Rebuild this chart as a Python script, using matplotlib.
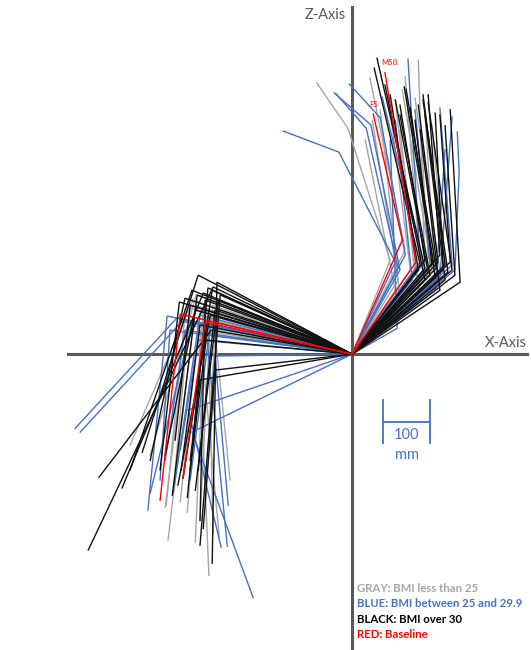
import matplotlib
matplotlib.use('Agg')
import matplotlib.pyplot as plt

# colours used in the original figure
GRAY = '#A6A6A6'
BLUE = '#4472C4'
BLACK = '#111111'
RED = '#FF0000'
AXIS = '#595959'

# every chain starts at the hip (0, 0); values in mm, (x, z)
# leg = knee, ankle   trunk = lower point(s) ... top point
gray_leg = [
    [(-339, 115), (-473, -194)], [(-345, 98), (-398, -326)], [(-334, 104), (-392, -396)],
    [(-324, 89), (-366, -315)], [(-317, 94), (-351, -337)], [(-313, 77), (-334, -400)],
    [(-328, 68), (-305, -471)], [(-307, 83), (-296, -381)], [(-324, 51), (-283, -390)],
    [(-356, 83), (-396, -322)], [(-302, 72), (-324, -354)], [(-349, 62), (-377, -247)],
    [(-313, 115), (-345, -268)], [(-292, 40), (-313, -311)],
    [(-332, 126), (-430, -215)], [(-298, 104), (-260, -268)],
]
gray_trunk = [
    [(81, 200), (-9, 481), (-75, 577)], [(155, 183), (141, 626)], [(113, 222), (38, 588)],
    [(145, 196), (113, 590)], [(170, 179), (107, 562)], [(187, 175), (134, 545)],
    [(102, 115), (60, 520)], [(134, 168), (92, 541)], [(162, 204), (145, 498)],
    [(124, 179), (77, 552)], [(198, 190), (170, 488)], [(98, 158), (43, 498)],
    [(177, 158), (155, 520)], [(141, 147), (102, 477)],
    [(92, 136), (28, 456)], [(145, 115), (102, 435)],
]

blue_leg = [
    [(-373, 77), (-590, -158)], [(-362, 70), (-579, -166)], [(-394, 81), (-435, -332)],
    [(-292, -4), (-264, -322)], [(-341, -166), (-211, -518)], [(-349, -119), (-279, -411)],
    [(-334, 94), (-430, -296)], [(-324, 83), (-381, -296)], [(-313, 72), (-266, -409)],
    [(-302, 62), (-345, -268)], [(-356, 51), (-398, -226)], [(-328, 30), (-366, -204)],
    [(-388, 51), (-409, -268)],
]
blue_trunk = [
    [(92, 196), (-28, 430), (-147, 475)], [(102, 179), (40, 488), (-38, 556)],
    [(98, 183), (30, 481), (-34, 554)], [(113, 211), (60, 503), (-6, 575)],
    [(145, 196), (119, 628)], [(213, 190), (187, 524)],
    [(219, 179), (228, 388), (224, 473)], [(187, 164), (213, 505)],
    [(155, 179), (64, 547)], [(96, 55), (81, 456)],
    [(166, 190), (134, 520)], [(128, 158), (92, 498)],
    [(177, 136), (198, 435)],
]

black_leg = [
    [(-328, 168), (-447, -209)], [(-288, 153), (-298, -445)], [(-296, 143), (-562, -417)],
    [(-317, 130), (-490, -285)], [(-307, 141), (-351, -305)], [(-300, 51), (-539, -262)],
    [(-368, 111), (-409, -247)], [(-330, 126), (-383, -300)], [(-298, 136), (-360, -264)],
    [(-345, 104), (-377, -183)], [(-313, 115), (-324, -354)], [(-285, 115), (-334, -290)],
    [(-324, -55), (-345, -226)], [(-292, -34), (-317, -371)], [(-334, 94), (-398, -215)],
    [(-302, 83), (-371, -279)], [(-356, 119), (-430, -226)], [(-311, 30), (-345, -247)],
    [(-324, 62), (-364, -247)], [(-292, 94), (-328, -247)],
    [(-281, 126), (-324, -407)], [(-341, 136), (-473, -247)],
]
black_trunk = [
    [(155, 183), (53, 630)], [(145, 190), (47, 609)], [(173, 196), (111, 569)],
    [(179, 183), (115, 564)], [(198, 190), (151, 552)], [(204, 175), (151, 541)],
    [(213, 179), (162, 535)], [(194, 179), (177, 513)], [(230, 153), (209, 520)],
    [(219, 168), (198, 486)], [(166, 168), (102, 509)], [(183, 196), (141, 530)],
    [(187, 211), (162, 552)], [(162, 175), (92, 541)], [(141, 179), (81, 552)],
    [(209, 196), (187, 509)], [(177, 162), (124, 524)], [(198, 158), (155, 509)],
    [(155, 200), (102, 530)], [(170, 190), (134, 498)],
    [(187, 136), (145, 477)], [(155, 158), (70, 573)],
]

# baseline manikins
red_names = ['M50.', 'F5']
red_leg = [[(-366, 85), (-409, -311)], [(-313, 68), (-360, -264)]]
red_trunk = [[(136, 196), (70, 599)], [(107, 243), (45, 511)]]

legend_lines = [
    ('GRAY: BMI less than 25', GRAY),
    ('BLUE: BMI between 25 and 29.9', BLUE),
    ('BLACK: BMI over 30', '#000000'),
    ('RED: Baseline', RED),
]

scale_mm = 100

plt.rcParams['font.family'] = ['Lato', 'DejaVu Sans']

fig = plt.figure(figsize=(5.31, 6.5), dpi=100)
ax = fig.add_axes([0, 0, 1, 1])
ax.set_xlim(-750, 381)
ax.set_ylim(-630, 754)
ax.axis('off')

# coordinate axes
ax.axvline(0, ymin=0, ymax=0.989, color=AXIS, lw=2.2, zorder=1)
ax.axhline(0, xmin=0.128, xmax=0.992, color=AXIS, lw=2.2, zorder=1)
ax.text(-13, 722, 'Z-Axis', color=AXIS, fontsize=10.5, ha='right', va='center')
ax.text(373, 23, 'X-Axis', color=AXIS, fontsize=10.5, ha='right', va='center')


def draw(chains, color, lw=1.0, z=2):
    for pts in chains:
        xs = [0] + [p[0] for p in pts]
        zs = [0] + [p[1] for p in pts]
        ax.plot(xs, zs, color=color, lw=lw, zorder=z, solid_joinstyle='miter')


draw(gray_leg, GRAY)
draw(gray_trunk, GRAY)
draw(blue_leg, BLUE)
draw(blue_trunk, BLUE)
draw(black_leg, BLACK)
draw(black_trunk, BLACK)
draw(red_leg, RED, z=3)
draw(red_trunk, RED, z=3)

for name, trunk in zip(red_names, red_trunk):
    top = trunk[-1]
    ax.text(top[0] - 8, top[1] + 21, name, color=RED, fontsize=5.5, ha='left', va='center')

# 100 mm scale bar
x0 = 66
ax.plot([x0, x0 + scale_mm], [-145, -145], color=BLUE, lw=1.3)
ax.plot([x0, x0], [-98, -190], color=BLUE, lw=1.3)
ax.plot([x0 + scale_mm, x0 + scale_mm], [-98, -190], color=BLUE, lw=1.3)
ax.text(x0 + scale_mm / 2, -173, str(scale_mm), color=BLUE, fontsize=10.5, ha='center', va='center')
ax.text(x0 + scale_mm / 2, -215, 'mm', color=BLUE, fontsize=10.5, ha='center', va='center')

# colour key
for i, (txt, col) in enumerate(legend_lines):
    ax.text(11, -498 - 33 * i, txt, color=col, fontsize=8.2, fontweight='bold', ha='left', va='center')

fig.savefig('out.png', dpi=100)
